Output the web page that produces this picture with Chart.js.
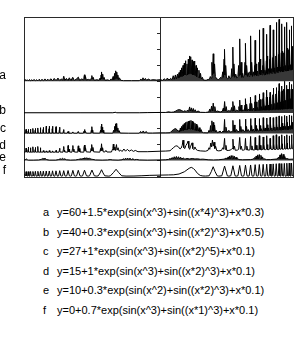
<!DOCTYPE html>
<html>
<head>
<meta charset="utf-8">
<script src="https://cdn.jsdelivr.net/npm/chart.js@4/dist/chart.umd.min.js"></script>
<style>
  html, body { margin: 0; padding: 0; background: #fff; }
  #wrap { position: relative; width: 300px; height: 340px; overflow: hidden; }
  #chartBox { position: absolute; left: 0; top: 0; width: 300px; height: 195px; }
  .fl { position: absolute; left: 0; width: 300px; height: 14px; line-height: 14px;
        font-family: "Liberation Sans", Arial, sans-serif; font-size: 11px; color: #000; white-space: nowrap; }
  .fl .lt { position: absolute; left: 43px; }
  .fl .fx { position: absolute; left: 57px; }
</style>
</head>
<body>
<div id="wrap">
  <div id="chartBox"><canvas id="c"></canvas></div>
  <div id="formulas"></div>
</div>
<script>
// ---------------- data ----------------
const seriesLetters = ['a', 'b', 'c', 'd', 'e', 'f'];
const seriesOffsets = [60, 40, 27, 15, 10, 0];
const seriesFilled = [true, true, true, false, true, false];
const formulas = [
  'y=60+1.5*exp(sin(x^3)+sin((x*4)^3)+x*0.3)',
  'y=40+0.3*exp(sin(x^3)+sin((x*2)^3)+x*0.5)',
  'y=27+1*exp(sin(x^3)+sin((x*2)^5)+x*0.1)',
  'y=15+1*exp(sin(x^3)+sin((x*2)^3)+x*0.1)',
  'y=10+0.3*exp(sin(x^2)+sin((x*2)^3)+x*0.1)',
  'y=0+0.7*exp(sin(x^3)+sin((x*1)^3)+x*0.1)'
];
const letterLevels = [63.5, 41.5, 30.0, 19.0, 11.5, 3.2];
const yTicks = [0, 10, 20, 30, 40, 50, 60, 70, 80, 90, 100];

const seriesA = [
[-5.15,60.4],[-5.11,61.2],[-5.07,60.3],[-5.03,61.0],[-4.99,60.3],[-4.94,61.1],[-4.90,60.3],[-4.86,60.9],[-4.81,60.3],[-4.77,61.2],[-4.72,60.3],[-4.67,61.0],[-4.63,60.3],[-4.57,61.3],[-4.53,60.3],[-4.47,61.2],[-4.42,60.4],[-4.36,61.5],[-4.31,60.4],[-4.25,61.3],[-4.20,60.4],[-4.14,61.6],[-4.07,60.4],[-4.01,61.8],[-3.94,60.4],[-3.87,62.0],[-3.80,60.5],[-3.74,61.5],[-3.69,60.6],[-3.65,63.2],[-3.61,60.6],[-3.55,61.8],[-3.49,60.5],[-3.44,62.2],[-3.38,60.5],[-3.31,62.5],[-3.25,60.5],[-3.17,61.5],[-3.10,62.6],[-3.05,60.6],[-2.97,61.5],[-2.92,61.0],[-2.89,62.5],[-2.87,64.1],[-2.85,61.8],[-2.83,63.0],[-2.80,60.8],[-2.72,61.2],[-2.64,60.7],[-2.61,62.0],[-2.59,63.6],[-2.57,61.5],[-2.54,62.5],[-2.50,60.6],[-2.40,61.0],[-2.32,60.6],[-2.28,62.0],[-2.26,61.0],[-2.24,64.0],[-2.23,61.5],[-2.22,65.9],[-2.20,61.8],[-2.18,64.5],[-2.16,61.2],[-2.13,62.5],[-2.09,60.6],[-2.00,60.9],[-1.92,60.5],[-1.86,61.5],[-1.82,60.8],[-1.79,63.0],[-1.76,61.0],[-1.73,65.0],[-1.71,61.5],[-1.69,66.6],[-1.67,62.0],[-1.65,65.8],[-1.63,61.5],[-1.61,64.0],[-1.58,61.0],[-1.55,62.2],[-1.50,60.6],[-1.40,60.4],[-1.10,60.4],[-0.80,60.4],[-0.74,61.4],[-0.70,60.6],[-0.66,62.2],[-0.62,60.7],[-0.57,61.8],[-0.52,60.6],[-0.46,61.4],[-0.38,60.7],[-0.28,61.0],[-0.15,60.8],[0,61.0],
[0.08,60.6],[0.14,61.6],[0.20,60.7],[0.26,62.0],[0.32,60.8],[0.38,61.8],[0.44,61.0],[0.48,63.5],[0.52,61.2],[0.56,64.0],[0.60,61.5],[0.64,64.5],[0.67,62.0],[0.70,65.5],[0.72,62.5],[0.75,67.0],[0.77,63.0],[0.80,68.5],[0.82,63.0],[0.85,70.0],[0.87,63.5],[0.90,71.5],[0.92,64.0],[0.95,73.0],[0.97,64.0],[1.00,71.0],[1.02,64.0],[1.05,74.0],[1.07,64.5],[1.10,76.0],[1.12,65.0],[1.14,75.5],[1.16,64.5],[1.19,73.5],[1.21,64.0],[1.24,72.5],[1.26,64.0],[1.29,72.8],[1.31,63.5],[1.34,70.0],[1.36,63.0],[1.39,68.5],[1.42,62.5],[1.45,67.0],[1.48,62.0],[1.51,65.0],[1.54,61.5],[1.58,62.5],[1.62,60.8],[1.72,60.6],[1.80,61.2],
[1.84,61.0],[1.88,63.0],[1.91,62.0],[1.94,72.0],[1.96,64.0],[1.99,77.4],[2.01,65.0],[2.04,71.0],[2.07,63.0],[2.12,61.5],[2.20,61.0],[2.27,62.5],[2.31,61.8],[2.35,66.0],[2.37,62.5],[2.40,74.0],[2.41,64.0],[2.42,80.2],[2.44,64.0],[2.46,70.0],[2.49,62.0],[2.54,61.5],[2.58,63.5],[2.62,61.8],[2.66,62.0],[2.69,68.0],[2.71,63.0],[2.73,81.6],[2.75,63.5],[2.77,71.0],[2.80,62.5],[2.84,64.5],[2.88,62.0],[2.92,63.0],[2.95,70.0],[2.97,63.5],[2.99,86.8],[3.01,64.0],[3.04,72.0],[3.07,62.5],[3.10,65.0],[3.13,62.5],[3.16,63.0],[3.19,72.0],[3.20,64.0],[3.21,84.0],[3.23,64.0],[3.25,70.0],[3.28,63.0],[3.31,65.5],[3.34,63.0],[3.37,66.0],[3.39,64.0],[3.40,88.7],[3.42,64.0],[3.44,72.0],[3.47,63.0],[3.50,66.0],[3.53,63.5],[3.55,70.0],[3.56,64.0],[3.57,85.9],[3.59,64.0],[3.61,71.0],[3.63,63.5],[3.66,66.5],[3.69,63.5],[3.71,72.0],[3.72,64.5],[3.73,92.5],[3.745,64.5],[3.76,74.0],[3.78,64.0],[3.81,67.0],[3.84,64.0],[3.86,70.0],[3.865,65.0],[3.875,93.5],[3.885,65.0],[3.90,75.0],[3.92,64.0],[3.94,67.0],[3.97,64.0],[3.995,73.0],[4.00,65.0],[4.01,89.7],[4.02,65.0],[4.035,76.0],[4.05,64.5],[4.07,68.0],[4.095,64.5],[4.115,74.0],[4.125,65.5],[4.135,95.4],[4.145,65.5],[4.16,77.0],[4.175,65.0],[4.195,68.0],[4.215,65.0],[4.235,75.0],[4.245,66.0],[4.255,92.5],[4.265,66.0],[4.28,78.0],[4.295,65.0],[4.31,68.5],[4.33,65.0],[4.35,76.0],[4.36,66.0],[4.37,97.2],[4.38,66.0],[4.39,79.0],[4.405,65.5],[4.42,69.0],[4.44,65.5],[4.455,77.0],[4.465,66.5],[4.475,99.1],[4.485,66.5],[4.50,80.0],[4.515,66.0],[4.53,69.0],[4.545,66.0],[4.56,78.0],[4.57,66.5],[4.578,96.3],[4.587,66.5],[4.60,79.0],[4.615,66.0],[4.63,69.5],[4.645,66.0],[4.658,78.0],[4.666,67.0],[4.674,94.4],[4.682,67.0],[4.695,80.0],[4.71,66.5],[4.725,70.0],[4.74,66.5],[4.752,79.0],[4.76,67.0],[4.768,97.2],[4.776,67.0],[4.79,81.0],[4.805,66.5],[4.82,70.0],[4.835,66.5],[4.843,80.0],[4.851,67.5],[4.859,92.5],[4.867,67.5],[4.88,80.0],[4.895,67.0],[4.91,70.5],[4.925,67.0],[4.933,81.0],[4.94,68.0],[4.946,95.0],[4.953,68.0],[4.965,82.0],[4.98,67.5],[5.0,70.0]
];

const seriesB = [
[-5.15,40.1],[-3.0,40.1],[-1.8,40.1],[-1.7,40.4],[-1.65,40.1],[-0.8,40.1],[-0.5,40.2],[0,40.3],
[0.2,40.3],[0.3,40.7],[0.4,40.4],[0.5,40.6],[0.58,41.2],[0.65,41.9],[0.72,42.1],[0.80,41.5],[0.86,40.9],[0.92,41.4],[0.97,40.8],[1.02,41.8],[1.06,41.0],[1.10,43.8],[1.13,41.2],[1.17,43.2],[1.20,41.0],[1.24,42.8],[1.27,40.8],[1.31,42.0],[1.35,40.6],[1.42,41.2],[1.50,40.4],[1.70,40.3],[1.82,40.6],[1.86,42.5],[1.89,41.0],[1.93,44.3],[1.96,41.2],[1.99,46.2],[2.02,41.2],[2.05,44.0],[2.08,40.8],[2.15,41.2],[2.25,40.6],[2.33,41.0],[2.37,43.0],[2.39,41.2],[2.42,47.2],[2.45,41.2],[2.48,44.0],[2.51,40.9],[2.58,41.5],[2.64,40.9],[2.69,43.5],[2.71,41.2],[2.73,47.2],[2.76,41.2],[2.79,44.5],[2.82,41.0],[2.88,41.8],[2.93,41.1],[2.96,44.0],[2.975,41.3],[2.99,48.1],[3.01,41.3],[3.04,45.0],[3.07,41.1],[3.12,42.0],[3.16,41.2],[3.19,45.0],[3.20,41.4],[3.21,49.0],[3.23,41.4],[3.25,45.5],[3.28,41.3],[3.32,42.5],[3.36,41.3],[3.38,46.0],[3.39,41.5],[3.40,50.0],[3.42,41.5],[3.44,46.0],[3.47,41.4],[3.51,43.0],[3.54,41.4],[3.56,47.0],[3.565,41.6],[3.575,51.0],[3.59,41.6],[3.61,47.0],[3.64,41.5],[3.67,43.5],[3.70,41.5],[3.715,48.0],[3.72,41.7],[3.73,52.0],[3.745,41.7],[3.76,48.5],[3.79,41.6],[3.82,44.0],[3.85,41.6],[3.862,49.0],[3.868,41.8],[3.875,52.8],[3.888,41.8],[3.90,49.0],[3.925,41.7],[3.95,44.5],[3.98,41.7],[3.995,50.0],[4.0,41.9],[4.008,54.4],[4.02,41.9],[4.035,50.0],[4.06,41.8],[4.08,45.0],[4.105,41.8],[4.12,50.0],[4.127,42.0],[4.135,53.0],[4.145,42.0],[4.16,51.0],[4.18,41.9],[4.2,45.5],[4.225,41.9],[4.24,51.5],[4.247,42.1],[4.254,55.7],[4.263,42.1],[4.278,52.0],[4.295,42.0],[4.315,46.0],[4.335,42.0],[4.352,52.0],[4.36,42.2],[4.367,56.0],[4.376,42.2],[4.39,53.0],[4.405,42.1],[4.42,46.5],[4.44,42.1],[4.46,54.0],[4.467,42.3],[4.475,58.5],[4.484,42.3],[4.498,54.0],[4.512,42.2],[4.528,47.0],[4.545,42.2],[4.56,53.5],[4.57,42.4],[4.577,57.0],[4.585,42.4],[4.598,54.0],[4.612,42.3],[4.627,47.5],[4.643,42.3],[4.658,55.0],[4.666,42.5],[4.673,60.0],[4.681,42.5],[4.694,55.0],[4.708,42.4],[4.722,48.0],[4.737,42.4],[4.752,54.0],[4.76,42.6],[4.767,57.5],[4.775,42.6],[4.788,55.0],[4.802,42.5],[4.815,48.5],[4.83,42.5],[4.844,55.0],[4.851,42.7],[4.858,59.5],[4.866,42.7],[4.878,55.5],[4.892,42.6],[4.905,49.0],[4.92,42.6],[4.932,55.0],[4.94,42.8],[4.946,58.0],[4.953,42.8],[4.965,55.0],[4.98,42.7],[5.0,49.0]
];

const seriesC = [
[-5.15,27.2],[-5.10,27.3],[-5.085,28.5],[-5.071,29.6],[-5.06,27.3],[-5.0,27.2],[-4.995,28.5],[-4.987,29.6],[-4.975,27.3],[-4.92,27.2],[-4.91,28.8],[-4.901,29.8],[-4.89,27.3],[-4.83,27.2],[-4.82,28.8],[-4.813,30.2],[-4.80,27.3],[-4.74,27.2],[-4.73,29.0],[-4.721,30.2],[-4.71,27.3],[-4.645,27.2],[-4.635,29.0],[-4.626,30.5],[-4.615,27.3],[-4.545,27.2],[-4.535,29.2],[-4.526,30.7],[-4.515,27.3],[-4.44,27.2],[-4.43,29.5],[-4.421,30.9],[-4.41,27.3],[-4.33,27.2],[-4.32,29.8],[-4.311,31.6],[-4.30,27.3],[-4.215,27.2],[-4.205,30.0],[-4.196,31.6],[-4.185,27.3],[-4.095,27.2],[-4.085,30.0],[-4.073,31.6],[-4.06,27.3],[-3.965,27.2],[-3.955,29.8],[-3.942,31.3],[-3.93,27.3],[-3.83,27.2],[-3.815,29.5],[-3.802,31.0],[-3.79,27.3],[-3.68,27.2],[-3.665,28.5],[-3.651,29.5],[-3.635,27.2],[-3.52,27.2],[-3.487,28.3],[-3.46,27.2],[-3.34,27.2],[-3.306,28.0],[-3.28,27.2],[-3.14,27.2],[-3.102,28.3],[-3.07,27.2],[-2.91,27.2],[-2.885,28.5],[-2.867,29.5],[-2.85,27.6],[-2.83,28.3],[-2.80,27.2],[-2.63,27.2],[-2.61,29.0],[-2.595,28.0],[-2.586,31.3],[-2.575,28.0],[-2.56,29.2],[-2.54,27.3],[-2.29,27.2],[-2.26,29.0],[-2.245,28.0],[-2.235,31.5],[-2.225,28.3],[-2.215,33.0],[-2.205,28.5],[-2.19,31.0],[-2.175,28.0],[-2.16,29.0],[-2.14,27.3],[-1.80,27.2],[-1.77,29.0],[-1.75,28.0],[-1.73,31.5],[-1.715,28.5],[-1.70,33.0],[-1.685,29.0],[-1.675,33.3],[-1.66,29.0],[-1.645,32.0],[-1.63,28.5],[-1.61,30.5],[-1.59,28.0],[-1.56,28.8],[-1.52,27.3],[-1.2,27.2],[-0.80,27.2],[-0.75,28.3],[-0.70,27.4],[-0.65,28.6],[-0.60,27.4],[-0.54,28.2],[-0.48,27.3],[-0.3,27.3],[0,27.4],
[0.2,27.4],[0.36,27.5],[0.42,28.5],[0.50,29.6],[0.56,30.1],[0.62,29.5],[0.66,28.3],[0.70,28.8],[0.72,28.0],[0.75,30.5],[0.77,28.5],[0.80,31.5],[0.82,28.8],[0.85,32.5],[0.87,29.0],[0.90,33.3],[0.92,29.2],[0.95,34.0],[0.97,29.5],[1.00,34.4],[1.02,29.5],[1.05,34.7],[1.07,29.8],[1.10,35.0],[1.12,29.8],[1.15,35.3],[1.17,29.8],[1.20,34.8],[1.22,29.5],[1.25,34.1],[1.27,29.3],[1.30,33.5],[1.32,29.0],[1.35,33.0],[1.37,28.8],[1.40,32.0],[1.43,28.5],[1.46,30.7],[1.49,28.2],[1.53,29.5],[1.57,27.8],[1.62,27.5],[1.79,27.4],[1.83,29.0],[1.86,28.0],[1.89,32.0],[1.91,28.5],[1.94,35.0],[1.96,28.8],[1.99,34.0],[2.01,28.5],[2.04,32.4],[2.07,28.0],[2.10,29.0],[2.15,27.5],[2.25,28.5],[2.30,27.6],[2.36,28.5],[2.39,28.0],[2.418,35.9],[2.44,28.2],[2.47,31.0],[2.51,27.8],[2.58,29.0],[2.63,27.9],[2.68,28.2],[2.71,28.4],[2.733,35.3],[2.75,28.4],[2.78,32.4],[2.81,28.0],[2.87,29.5],[2.92,28.0],[2.97,28.5],[2.989,35.9],[3.005,28.5],[3.03,31.5],[3.06,28.2],[3.11,29.5],[3.15,28.2],[3.19,28.6],[3.207,36.1],[3.222,28.6],[3.245,31.5],[3.27,28.3],[3.31,29.5],[3.35,28.3],[3.385,28.7],[3.40,36.4],[3.415,28.7],[3.44,32.0],[3.46,28.4],[3.50,29.8],[3.53,28.4],[3.56,28.8],[3.572,36.7],[3.585,28.8],[3.605,32.0],[3.625,28.5],[3.66,30.0],[3.69,28.5],[3.718,28.9],[3.729,36.4],[3.74,28.9],[3.76,32.0],[3.78,28.6],[3.81,30.0],[3.84,28.6],[3.864,29.0],[3.874,37.0],[3.884,29.0],[3.90,32.5],[3.92,28.7],[3.95,30.5],[3.975,28.7],[3.998,29.1],[4.008,36.8],[4.018,29.1],[4.035,32.5],[4.05,28.8],[4.075,30.5],[4.10,28.8],[4.125,29.2],[4.134,37.2],[4.143,29.2],[4.16,33.0],[4.175,28.9],[4.2,30.5],[4.22,28.9],[4.244,29.3],[4.253,37.0],[4.262,29.3],[4.277,33.0],[4.292,29.0],[4.315,31.0],[4.335,29.0],[4.358,29.4],[4.367,37.5],[4.376,29.4],[4.39,33.5],[4.405,29.1],[4.425,31.0],[4.445,29.1],[4.466,29.5],[4.474,38.1],[4.482,29.5],[4.496,33.5],[4.51,29.2],[4.53,31.0],[4.548,29.2],[4.568,29.6],[4.576,37.8],[4.584,29.6],[4.597,33.5],[4.611,29.3],[4.628,31.5],[4.645,29.3],[4.665,29.7],[4.673,38.4],[4.681,29.7],[4.693,34.0],[4.706,29.4],[4.722,31.5],[4.738,29.4],[4.76,29.8],[4.767,38.0],[4.774,29.8],[4.786,34.0],[4.799,29.5],[4.815,31.5],[4.83,29.5],[4.851,29.9],[4.858,38.7],[4.865,29.9],[4.877,34.0],[4.889,29.6],[4.905,32.0],[4.92,29.6],[4.939,30.0],[4.945,38.2],[4.951,30.0],[4.963,34.0],[4.975,29.7],[4.99,32.0],[5.0,30.0]
];

const seriesD = [
[-5.15,15.2],[-5.10,15.3],[-5.085,16.5],[-5.071,17.8],[-5.055,15.3],[-5.005,15.2],[-4.995,16.8],[-4.987,18.4],[-4.975,15.3],[-4.92,15.2],[-4.91,16.5],[-4.901,18.0],[-4.89,15.3],[-4.83,15.2],[-4.82,17.0],[-4.813,18.6],[-4.80,15.3],[-4.74,15.2],[-4.73,16.8],[-4.721,18.2],[-4.71,15.3],[-4.645,15.2],[-4.635,17.2],[-4.626,18.8],[-4.615,15.3],[-4.545,15.2],[-4.535,16.8],[-4.526,18.0],[-4.515,15.3],[-4.44,15.2],[-4.421,16.2],[-4.40,15.2],[-4.33,15.2],[-4.311,16.0],[-4.29,15.2],[-4.215,15.2],[-4.196,16.2],[-4.175,15.2],[-4.09,15.2],[-4.073,16.0],[-4.055,15.2],[-3.96,15.2],[-3.942,16.3],[-3.925,15.2],[-3.83,15.2],[-3.815,16.5],[-3.802,17.7],[-3.79,15.3],[-3.68,15.2],[-3.665,17.0],[-3.651,18.8],[-3.635,15.4],[-3.62,16.5],[-3.60,15.3],[-3.52,15.2],[-3.50,17.5],[-3.487,19.4],[-3.47,15.6],[-3.45,17.0],[-3.43,15.3],[-3.34,15.2],[-3.32,17.5],[-3.306,19.4],[-3.29,15.6],[-3.27,17.2],[-3.25,15.3],[-3.14,15.2],[-3.12,17.5],[-3.102,19.2],[-3.085,15.8],[-3.065,17.5],[-3.04,15.3],[-2.91,15.2],[-2.89,18.0],[-2.867,19.7],[-2.85,16.0],[-2.83,18.0],[-2.80,15.4],[-2.64,15.2],[-2.62,17.5],[-2.605,16.0],[-2.586,20.0],[-2.57,16.1],[-2.55,18.2],[-2.52,15.4],[-2.29,15.2],[-2.26,17.5],[-2.245,16.0],[-2.224,20.5],[-2.205,16.3],[-2.185,18.0],[-2.16,15.4],[-2.10,15.3],[-2.06,16.3],[-2.02,15.3],[-1.85,15.3],[-1.80,17.5],[-1.78,20.3],[-1.76,16.5],[-1.72,18.5],[-1.70,16.2],[-1.66,20.0],[-1.64,16.5],[-1.60,18.0],[-1.56,15.8],[-1.50,16.5],[-1.45,15.6],[-1.38,17.2],[-1.32,15.8],[-1.25,17.0],[-1.18,15.8],[-1.10,16.6],[-1.02,15.7],[-0.95,16.3],[-0.85,15.5],[-0.5,15.5],[0,15.8],
[0.2,15.9],[0.36,16.1],[0.42,17.0],[0.50,18.2],[0.56,19.0],[0.62,19.2],[0.68,18.5],[0.74,17.2],[0.78,17.8],[0.82,19.5],[0.85,22.8],[0.88,18.0],[0.92,17.5],[0.96,19.5],[1.00,20.5],[1.04,22.2],[1.07,18.0],[1.10,17.0],[1.14,19.0],[1.19,21.1],[1.22,17.5],[1.26,16.8],[1.30,18.5],[1.34,17.0],[1.40,16.3],[1.50,16.0],[1.70,15.8],[1.79,16.3],[1.83,18.0],[1.86,17.0],[1.90,21.0],[1.93,18.5],[1.96,22.8],[1.99,19.0],[2.02,21.5],[2.05,17.5],[2.08,19.0],[2.12,16.3],[2.2,16.0],[2.30,16.3],[2.35,18.0],[2.38,17.0],[2.418,23.9],[2.44,17.0],[2.47,19.5],[2.50,16.3],[2.58,16.3],[2.65,16.6],[2.70,17.5],[2.733,23.4],[2.76,17.0],[2.79,19.0],[2.82,16.4],[2.90,16.5],[2.95,17.0],[2.989,24.5],[3.02,17.0],[3.05,19.0],[3.08,16.5],[3.14,16.5],[3.18,16.8],[3.207,23.9],[3.23,16.8],[3.26,19.0],[3.29,16.5],[3.34,16.6],[3.375,16.8],[3.40,25.1],[3.42,16.8],[3.45,19.2],[3.48,16.6],[3.53,16.6],[3.555,16.9],[3.572,24.5],[3.59,16.9],[3.61,19.5],[3.64,16.6],[3.69,16.7],[3.713,17.0],[3.729,25.6],[3.745,17.0],[3.765,19.5],[3.79,16.7],[3.83,16.7],[3.86,17.0],[3.874,24.8],[3.888,17.0],[3.905,20.0],[3.925,16.8],[3.965,16.8],[3.995,17.1],[4.008,25.6],[4.021,17.1],[4.037,20.0],[4.056,16.8],[4.09,16.8],[4.122,17.2],[4.134,23.9],[4.146,17.2],[4.16,20.0],[4.178,16.9],[4.21,16.9],[4.242,17.2],[4.253,25.6],[4.264,17.2],[4.278,20.5],[4.295,16.9],[4.325,16.9],[4.357,17.3],[4.367,26.2],[4.377,17.3],[4.39,20.5],[4.405,17.0],[4.435,17.0],[4.465,17.3],[4.474,25.1],[4.483,17.3],[4.495,20.5],[4.51,17.0],[4.538,17.0],[4.567,17.4],[4.576,26.2],[4.585,17.4],[4.596,20.5],[4.61,17.1],[4.638,17.1],[4.665,17.4],[4.673,25.3],[4.681,17.4],[4.692,21.0],[4.706,17.1],[4.73,17.1],[4.76,17.5],[4.767,26.2],[4.774,17.5],[4.785,21.0],[4.798,17.2],[4.822,17.2],[4.851,17.5],[4.858,25.5],[4.865,17.5],[4.876,21.0],[4.889,17.2],[4.912,17.2],[4.939,17.6],[4.945,26.2],[4.951,17.6],[4.962,21.0],[4.975,17.3],[5.0,17.5]
];

const seriesE = [
[-5.15,10.2],[-5.10,10.5],[-5.06,10.9],[-5.02,10.4],[-4.98,10.2],[-4.80,10.2],[-4.60,10.3],[-4.50,10.6],[-4.46,11.2],[-4.43,10.8],[-4.40,11.5],[-4.37,10.9],[-4.34,11.2],[-4.30,10.5],[-4.20,10.2],[-3.95,10.2],[-3.85,10.5],[-3.78,11.0],[-3.74,10.7],[-3.70,11.3],[-3.66,10.8],[-3.62,11.0],[-3.55,10.4],[-3.40,10.2],[-3.20,10.3],[-3.10,10.6],[-3.00,11.0],[-2.95,10.7],[-2.92,11.5],[-2.89,10.9],[-2.86,11.7],[-2.83,11.0],[-2.80,11.7],[-2.77,11.0],[-2.74,11.6],[-2.71,10.9],[-2.68,11.3],[-2.62,10.8],[-2.55,10.6],[-2.45,10.3],[-2.20,10.2],[-2.00,10.3],[-1.90,10.5],[-1.80,10.3],[-1.60,10.2],[-1.45,10.4],[-1.40,11.0],[-1.36,10.5],[-1.32,11.4],[-1.28,10.6],[-1.24,11.5],[-1.20,10.6],[-1.15,11.3],[-1.10,10.5],[-1.05,11.0],[-0.98,10.4],[-0.90,10.6],[-0.80,10.3],[-0.5,10.2],[0,10.3],
[0.2,10.4],[0.3,10.6],[0.36,11.2],[0.40,10.7],[0.44,11.8],[0.48,10.9],[0.52,12.3],[0.56,11.0],[0.60,12.5],[0.64,11.0],[0.68,12.3],[0.72,11.0],[0.76,12.0],[0.80,10.9],[0.86,11.5],[0.92,10.8],[1.0,11.2],[1.1,10.9],[1.2,11.2],[1.3,10.9],[1.4,11.0],[1.5,10.7],[1.6,10.8],[1.8,10.4],[2.0,10.3],[2.2,10.4],[2.40,10.8],[2.48,11.5],[2.52,10.8],[2.55,12.2],[2.58,10.9],[2.61,12.8],[2.64,11.0],[2.67,13.1],[2.70,11.0],[2.73,13.0],[2.76,11.0],[2.79,12.6],[2.82,10.9],[2.85,12.0],[2.88,10.8],[2.91,11.2],[2.96,10.5],[3.10,10.4],[3.40,10.5],[3.50,10.8],[3.55,11.8],[3.58,10.9],[3.61,12.8],[3.64,11.0],[3.67,13.5],[3.70,11.0],[3.73,13.7],[3.76,11.0],[3.79,13.2],[3.82,10.9],[3.85,12.2],[3.88,10.8],[3.92,11.0],[4.00,10.5],[4.15,10.5],[4.40,10.9],[4.45,12.0],[4.48,11.0],[4.51,13.5],[4.54,11.0],[4.57,14.3],[4.60,11.0],[4.63,13.8],[4.66,11.0],[4.69,12.5],[4.72,10.9],[4.77,11.2],[4.85,10.7],[5.0,10.8]
];

const seriesF = [
[-5.15,1.2],[-5.094,0.25],[-5.071,2.9],[-5.048,0.25],[-5.029,0.06],[-5.011,0.25],[-4.987,2.9],[-4.963,0.25],[-4.944,0.06],[-4.926,0.25],[-4.901,3.0],[-4.876,0.25],[-4.857,0.06],[-4.839,0.25],[-4.813,3.0],[-4.787,0.25],[-4.767,0.06],[-4.748,0.25],[-4.721,3.1],[-4.694,0.25],[-4.674,0.06],[-4.654,0.25],[-4.626,3.1],[-4.598,0.25],[-4.576,0.06],[-4.555,0.25],[-4.526,3.2],[-4.497,0.25],[-4.474,0.06],[-4.452,0.25],[-4.421,3.2],[-4.390,0.25],[-4.366,0.06],[-4.343,0.25],[-4.311,3.3],[-4.279,0.25],[-4.254,0.06],[-4.230,0.25],[-4.196,3.3],[-4.162,0.25],[-4.135,0.06],[-4.109,0.25],[-4.073,3.4],[-4.037,0.25],[-4.008,0.06],[-3.981,0.25],[-3.942,3.4],[-3.903,0.25],[-3.872,0.06],[-3.844,0.25],[-3.802,3.5],[-3.761,0.25],[-3.727,0.06],[-3.696,0.25],[-3.651,3.5],[-3.606,0.25],[-3.569,0.06],[-3.536,0.25],[-3.487,3.6],[-3.438,0.25],[-3.397,0.06],[-3.361,0.25],[-3.306,3.7],[-3.251,0.25],[-3.204,0.06],[-3.164,0.25],[-3.102,3.75],[-3.040,0.25],[-2.985,0.06],[-2.940,0.25],[-2.867,3.8],[-2.794,0.25],[-2.727,0.06],[-2.676,0.25],[-2.586,3.9],[-2.496,0.25],[-2.405,0.06],[-2.345,0.25],[-2.279,2.1],[-2.224,4.1],[-2.169,2.1],[-2.103,0.25],[-1.95,0.05],[-1.890,0.25],[-1.775,2.3],[-1.676,4.4],[-1.577,2.3],[-1.462,0.25],[-1.3,0.08],[-1.0,0.12],[-0.7,0.3],[-0.4,0.55],[0,0.7],[0.3,0.8],[0.5,0.9],[0.7,1.4],[0.9,2.8],[1.0,4.0],[1.08,5.0],[1.162,5.6],[1.24,4.9],[1.3,3.9],[1.4,1.7],[1.5,0.5],[1.6,0.15],[1.7,0.1],
[1.836,0.25],[1.92,3.0],[1.988,6.0],[2.056,3.0],[2.14,0.25],[2.2,0.07],[2.315,0.25],[2.418,6.4],[2.521,0.25],[2.575,0.06],[2.653,0.25],[2.733,6.6],[2.813,0.25],[2.861,0.06],[2.922,0.25],[2.989,6.8],[3.056,0.25],[3.098,0.06],[3.149,0.25],[3.207,7.0],[3.265,0.25],[3.303,0.06],[3.348,0.25],[3.4,7.1],[3.452,0.25],[3.486,0.06],[3.525,0.25],[3.572,7.3],[3.619,0.25],[3.65,0.06],[3.686,0.25],[3.729,7.4],[3.772,0.25],[3.8,0.06],[3.834,0.25],[3.874,7.5],[3.914,0.25],[3.94,0.06],[3.971,0.25],[4.008,7.6],[4.045,0.25],[4.07,0.06],[4.099,0.25],[4.134,7.7],[4.169,0.25],[4.193,0.06],[4.22,0.25],[4.253,7.8],[4.286,0.25],[4.31,0.06],[4.335,0.25],[4.367,7.9],[4.399,0.25],[4.42,0.06],[4.444,0.25],[4.474,8.0],[4.504,0.25],[4.525,0.06],[4.547,0.25],[4.576,8.0],[4.605,0.25],[4.625,0.06],[4.645,0.25],[4.673,8.1],[4.701,0.25],[4.72,0.06],[4.741,0.25],[4.767,8.2],[4.793,0.25],[4.812,0.06],[4.833,0.25],[4.858,8.3],[4.883,0.25],[4.9,0.06],[4.921,0.25],[4.945,8.3],[4.97,0.25],[5.0,0.6]
];

// ---------------- build chart ----------------
const allSeries = [seriesA, seriesB, seriesC, seriesD, seriesE, seriesF];
const toPts = arr => arr.map(p => ({x: p[0], y: p[1]}));
const LINE = '#000';
const FILL = 'rgba(0,0,0,0.78)';

const datasets = allSeries.map((s, i) => ({
  label: seriesLetters[i],
  data: toPts(s),
  borderColor: LINE,
  borderWidth: 1,
  pointRadius: 0,
  tension: 0,
  fill: seriesFilled[i] ? {value: seriesOffsets[i]} : false,
  backgroundColor: FILL
}));

const X_MIN = -5.15, X_MAX = 5.0, Y_MIN = -1, Y_MAX = 100.5;
const FRAME = '#2a2a2a';

new Chart(document.getElementById('c'), {
  type: 'line',
  data: { datasets },
  options: {
    responsive: true,
    maintainAspectRatio: false,
    animation: false,
    events: [],
    layout: { padding: { left: 0, right: 7, top: 6, bottom: 10 } },
    plugins: { legend: { display: false }, tooltip: { enabled: false } },
    scales: {
      x: {
        type: 'linear', position: 'bottom', min: X_MIN, max: X_MAX,
        ticks: { display: false }, grid: { display: false },
        border: { display: true, color: FRAME, width: 1 },
        afterFit: s => { s.height = 0; }
      },
      xt: {
        type: 'linear', axis: 'x', position: 'top', min: X_MIN, max: X_MAX,
        ticks: { display: false }, grid: { display: false },
        border: { display: true, color: FRAME, width: 1 },
        afterFit: s => { s.height = 0; }
      },
      y: {
        type: 'linear', position: 'left', min: Y_MIN, max: Y_MAX,
        grid: { display: false },
        border: { display: true, color: FRAME, width: 1 },
        afterBuildTicks: s => { s.ticks = letterLevels.map(v => ({ value: v })); },
        ticks: {
          padding: 10,
          color: '#000',
          font: { family: 'Liberation Sans', size: 12 },
          callback: (v, idx) => seriesLetters[idx]
        },
        afterFit: s => { s.width = 24; }
      },
      yr: {
        type: 'linear', axis: 'y', position: 'right', min: Y_MIN, max: Y_MAX,
        ticks: { display: false }, grid: { display: false },
        border: { display: true, color: FRAME, width: 1 },
        afterFit: s => { s.width = 0; }
      },
      yc: {
        type: 'linear', axis: 'y', position: { x: 0 }, min: Y_MIN, max: Y_MAX,
        afterBuildTicks: s => { s.ticks = yTicks.map(v => ({ value: v })); },
        ticks: { display: false },
        grid: { display: true, drawOnChartArea: false, drawTicks: true, tickLength: 3, color: FRAME },
        border: { display: true, color: FRAME, width: 1 }
      }
    }
  }
});

// formula lines (real text)
const fBox = document.getElementById('formulas');
const lineTops = [205, 224.5, 244, 263.5, 283, 302.5];
formulas.forEach((f, i) => {
  const d = document.createElement('div');
  d.className = 'fl';
  d.style.top = lineTops[i] + 'px';
  const l = document.createElement('span'); l.className = 'lt'; l.textContent = seriesLetters[i];
  const t = document.createElement('span'); t.className = 'fx'; t.textContent = f;
  d.appendChild(l); d.appendChild(t);
  fBox.appendChild(d);
});
</script>
</body>
</html>
